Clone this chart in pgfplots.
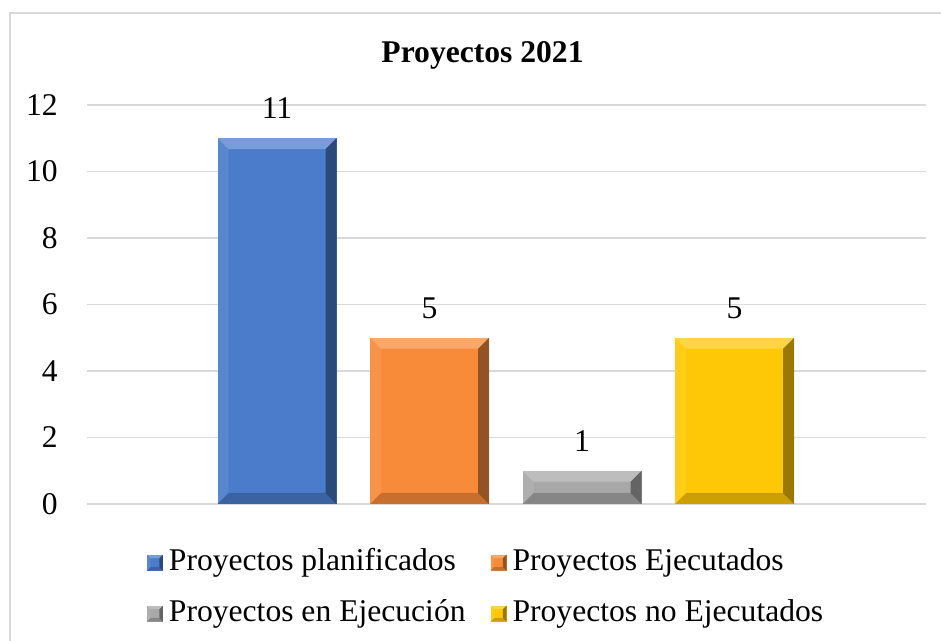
\documentclass[border=0pt]{standalone}
\usepackage{fontspec}
\setmainfont{Liberation Serif}
\usepackage{pgfplots}
\pgfplotsset{compat=1.18}
\definecolor{cblue}{HTML}{4A7CCB}
\definecolor{corange}{HTML}{F88B3A}
\definecolor{cgray}{HTML}{A8A8A8}
\definecolor{cyellow}{HTML}{FFC807}
\definecolor{gridc}{HTML}{D9D9D9}
\newcommand\cf{\fontsize{15.8pt}{19pt}\selectfont}
\def\bev{5.5pt}
\tikzset{nopp/.style={path picture={}},
bevel/.style={path picture={
  \fill[nopp,white,opacity=0.25] (path picture bounding box.north west) -- (path picture bounding box.north east)
     -- ([shift={(-\bev,-\bev)}]path picture bounding box.north east) -- ([shift={(\bev,-\bev)}]path picture bounding box.north west) -- cycle;
  \fill[nopp,black,opacity=0.40] (path picture bounding box.north east) -- (path picture bounding box.south east)
     -- ([shift={(-\bev,\bev)}]path picture bounding box.south east) -- ([shift={(-\bev,-\bev)}]path picture bounding box.north east) -- cycle;
  \fill[nopp,black,opacity=0.20] (path picture bounding box.south east) -- (path picture bounding box.south west)
     -- ([shift={(\bev,\bev)}]path picture bounding box.south west) -- ([shift={(-\bev,\bev)}]path picture bounding box.south east) -- cycle;
  \fill[nopp,white,opacity=0.08] (path picture bounding box.south west) -- (path picture bounding box.north west)
     -- ([shift={(\bev,-\bev)}]path picture bounding box.north west) -- ([shift={(\bev,\bev)}]path picture bounding box.south west) -- cycle;
}}}
\begin{document}
\begin{tikzpicture}
\useasboundingbox (0,0) rectangle (470.5pt,320.5pt);
\draw[gridc, line width=1pt] (5pt,0pt) -- (5pt,314pt) -- (470.5pt,314pt);
\node[font=\cf\bfseries, anchor=base] at (241.25pt,289pt) {Proyectos 2021};
\begin{axis}[
  at={(43.5pt,68.5pt)}, anchor=south west,
  scale only axis, width=419.5pt, height=199.5pt,
  xmin=87, xmax=926, ymin=0, ymax=12,
  ytick={0,2,...,12}, xtick=\empty,
  axis line style={draw=none}, major tick length=0pt,
  ymajorgrids, grid style={gridc, line width=0.8pt},
  ybar, bar width=119,
  /pgf/number format/assume math mode=true,
  yticklabel style={font=\cf, inner sep=0pt, anchor=east, xshift=-14.5pt},
  nodes near coords,
  nodes near coords style={font=\cf, inner sep=0pt, anchor=south, yshift=9.5pt, text=black, nopp},
  legend columns=2, legend cell align=left,
  legend image code/.code={\def\bev{1.8pt}\draw[#1,draw=none] (0pt,-4pt) rectangle (8pt,4pt);},
  legend style={at={(axis description cs:0.0715,-0.1103)}, anchor=north west,
    inner sep=0pt, outer sep=0pt, draw=none, fill=none,
    nodes={inner sep=0pt, text height=11pt, text depth=3.5pt, font=\cf},
    /tikz/row sep=11pt,
    /tikz/every odd column/.append style={column sep=3pt},
    /tikz/every even column/.append style={column sep=12.5pt}},
]
\addplot[fill=cblue, draw=none, bar shift=0pt, bevel] coordinates {(277,11)};
\addlegendentry{Proyectos planificados}
\addplot[fill=corange, draw=none, bar shift=0pt, bevel] coordinates {(429.5,5)};
\addlegendentry{Proyectos Ejecutados}
\addplot[fill=cgray, draw=none, bar shift=0pt, bevel] coordinates {(582,1)};
\addlegendentry{Proyectos en Ejecución}
\addplot[fill=cyellow, draw=none, bar shift=0pt, bevel] coordinates {(734.5,5)};
\addlegendentry{Proyectos no Ejecutados}
\end{axis}
\end{tikzpicture}
\end{document}
